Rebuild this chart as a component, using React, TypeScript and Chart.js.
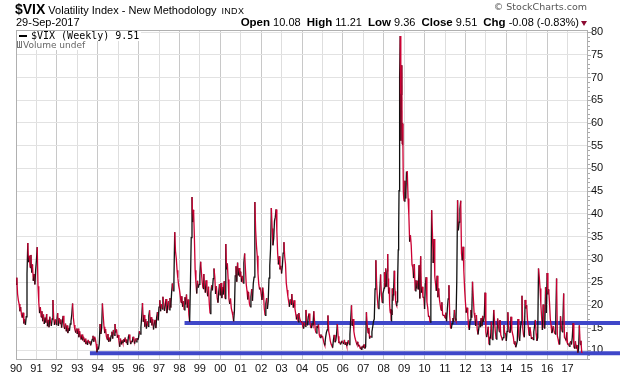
import React, { useEffect, useRef } from "react";
import { Chart, registerables } from "chart.js";

Chart.register(...registerables);

// ---- Data: bi-weekly $VIX closes (2008 weekly) ----
const vix1990 = [24.5, 26.0, 22.4, 21.0, 20.2, 18.6, 19.5, 17.8, 17.2, 18.3, 15.9, 16.8, 15.6, 17.4, 26.8, 33.6, 29.4, 30.8, 28.2, 31.0, 27.1, 28.9, 25.3, 26.8, 24.5, 27.6];
const vix1991 = [29.8, 32.7, 24.1, 20.6, 18.2, 19.5, 17.3, 18.6, 16.4, 17.9, 15.8, 17.2, 16.1, 18.0, 15.3, 16.7, 15.1, 17.4, 16.2, 15.4, 16.9, 21.1, 17.0, 15.6, 16.8, 15.7];
const vix1992 = [16.5, 18.2, 15.4, 17.1, 15.9, 16.8, 15.0, 16.3, 17.6, 15.2, 14.7, 15.9, 14.2, 15.5, 13.8, 14.9, 14.3, 15.8, 16.4, 17.9, 20.3, 17.2, 15.6, 14.5, 13.9, 14.8];
const vix1993 = [13.6, 14.8, 12.9, 14.2, 13.1, 12.4, 13.5, 12.2, 13.0, 11.8, 12.6, 11.4, 12.1, 11.2, 12.3, 11.6, 12.0, 11.1, 11.7, 12.4, 13.2, 11.9, 13.0, 12.5, 11.4, 9.6];
const vix1994 = [10.8, 10.2, 11.5, 15.8, 13.6, 14.9, 20.3, 17.6, 15.2, 13.8, 14.7, 13.1, 12.4, 13.6, 11.9, 12.8, 12.0, 13.2, 14.1, 12.6, 14.5, 13.3, 15.8, 13.9, 14.6, 12.8];
const vix1995 = [13.4, 12.1, 10.8, 12.6, 11.3, 12.2, 11.6, 12.5, 11.9, 12.8, 11.7, 12.4, 11.2, 12.9, 13.5, 12.3, 11.4, 12.1, 11.8, 13.0, 12.2, 11.5, 12.6, 11.9, 12.7, 12.3];
const vix1996 = [12.8, 14.2, 13.6, 15.1, 17.4, 20.4, 16.3, 17.8, 15.2, 16.9, 14.8, 16.4, 15.3, 17.6, 18.8, 16.1, 17.3, 15.5, 16.8, 14.6, 15.9, 16.7, 14.9, 17.2, 18.4, 16.6];
const vix1997 = [19.5, 21.0, 18.6, 20.2, 19.1, 21.8, 20.4, 18.7, 19.9, 21.3, 18.2, 19.6, 20.8, 18.9, 21.5, 19.4, 22.6, 24.7, 23.1, 25.4, 36.0, 31.8, 30.2, 27.6, 25.9, 24.3];
const vix1998 = [23.4, 22.1, 20.5, 21.9, 19.6, 20.8, 18.9, 21.7, 20.1, 22.3, 19.4, 21.2, 17.8, 16.3, 24.6, 34.8, 43.7, 38.2, 40.9, 35.1, 27.6, 24.8, 22.5, 25.3, 23.8, 24.5];
const vix1999 = [26.4, 29.5, 27.1, 25.0, 23.6, 26.8, 24.2, 22.7, 25.4, 23.1, 21.9, 24.0, 20.3, 18.1, 22.6, 24.3, 23.2, 25.8, 28.0, 26.2, 22.4, 24.1, 21.6, 20.5, 22.8, 24.6];
const vix2000 = [22.1, 24.8, 21.5, 23.9, 22.3, 25.2, 21.4, 33.4, 27.8, 29.1, 25.6, 21.3, 20.2, 21.4, 19.3, 18.5, 17.6, 16.4, 18.7, 26.4, 28.5, 25.1, 29.3, 26.5, 28.1, 26.2];
const vix2001 = [27.3, 25.1, 26.4, 24.8, 29.2, 31.3, 27.9, 24.6, 23.1, 21.2, 22.8, 20.4, 19.6, 21.8, 23.5, 20.9, 24.7, 26.1, 42.6, 36.4, 33.1, 30.8, 26.9, 24.5, 23.4, 23.8];
const vix2002 = [22.4, 21.1, 23.8, 22.5, 19.2, 17.7, 20.3, 21.5, 19.1, 20.8, 25.9, 28.6, 32.4, 41.3, 36.8, 33.1, 34.6, 38.5, 39.3, 41.0, 36.2, 31.4, 28.9, 30.7, 27.8, 28.6];
const vix2003 = [26.9, 28.5, 31.4, 33.8, 30.6, 29.0, 24.8, 23.3, 21.9, 20.8, 19.6, 21.2, 20.1, 22.4, 20.5, 19.4, 21.0, 19.2, 18.1, 16.8, 17.9, 16.3, 18.2, 17.1, 16.5, 16.2];
const vix2004 = [16.3, 15.2, 14.8, 16.1, 15.3, 18.9, 16.7, 15.5, 17.4, 18.1, 16.2, 15.1, 14.9, 16.0, 15.5, 18.6, 16.3, 14.4, 13.8, 15.4, 14.9, 15.7, 13.4, 12.8, 13.5, 12.9];
const vix2005 = [13.2, 12.4, 11.6, 11.1, 12.8, 13.9, 14.5, 17.7, 14.2, 13.3, 12.1, 11.4, 11.0, 10.6, 12.3, 13.4, 11.8, 12.1, 13.6, 15.8, 13.1, 11.6, 11.9, 11.3, 11.7, 12.1];
const vix2006 = [12.1, 11.4, 12.3, 11.2, 11.8, 11.0, 11.6, 12.2, 11.3, 13.5, 16.8, 19.9, 15.4, 16.9, 14.2, 13.1, 12.4, 11.8, 11.3, 11.9, 10.9, 11.2, 10.4, 10.8, 10.1, 11.0];
const vix2007 = [10.6, 11.3, 10.4, 10.8, 18.4, 15.6, 13.8, 14.9, 12.6, 13.2, 12.9, 14.1, 15.2, 16.4, 16.9, 23.5, 29.8, 24.6, 21.3, 19.2, 20.6, 22.9, 26.7, 22.4, 20.5, 22.5];
const vix2008 = [23.2, 23.7, 27.2, 24.0, 24.0, 28.0, 25.0, 24.1, 26.5, 27.5, 31.2, 25.8, 25.7, 22.5, 23.8, 20.3, 18.8, 18.2, 19.1, 16.5, 18.8, 17.8, 23.6, 20.9, 22.2, 23.4, 24.0, 27.5, 24.0, 23.0, 22.6, 20.7, 20.0, 19.8, 20.7, 23.1, 25.7, 32.1, 35.7, 45.1, 69.9, 70.3, 79.1, 59.9, 56.1, 66.3, 72.7, 55.3, 59.9, 54.3, 44.9, 43.4];
const vix2009 = [42.8, 47.3, 43.4, 49.3, 49.3, 43.4, 39.7, 33.9, 35.3, 33.1, 28.9, 28.2, 25.9, 29.0, 23.1, 25.4, 23.6, 25.3, 23.4, 28.7, 21.4, 30.7, 22.7, 24.0, 21.6, 21.7];
const vix2010 = [19.1, 24.6, 26.1, 20.6, 19.4, 17.4, 17.6, 16.2, 22.0, 40.8, 35.8, 29.2, 34.5, 26.3, 24.6, 23.1, 26.4, 21.7, 23.6, 21.1, 19.9, 18.8, 20.6, 17.9, 17.6, 17.8];
const vix2011 = [17.1, 18.3, 16.4, 19.2, 21.3, 24.3, 17.7, 15.1, 14.8, 15.9, 17.1, 16.3, 18.9, 17.0, 16.5, 25.3, 43.0, 36.4, 38.2, 41.1, 42.9, 31.3, 29.8, 32.8, 27.4, 23.4];
const vix2012 = [20.6, 18.3, 19.4, 17.8, 15.3, 14.5, 16.7, 18.9, 17.2, 25.1, 21.7, 18.3, 17.1, 15.4, 17.8, 14.6, 13.5, 14.8, 16.4, 15.1, 17.1, 15.3, 17.6, 16.3, 17.4, 22.7];
const vix2013 = [14.0, 12.9, 13.8, 15.2, 11.3, 13.0, 12.6, 16.3, 12.4, 13.0, 18.9, 16.7, 14.2, 12.5, 13.5, 17.0, 15.4, 14.1, 16.7, 13.4, 12.9, 12.2, 12.8, 15.6, 13.8, 13.7];
const vix2014 = [12.1, 14.2, 18.4, 15.1, 14.0, 13.9, 17.4, 14.5, 13.7, 12.9, 11.4, 12.0, 10.7, 11.3, 12.1, 16.9, 13.1, 12.1, 14.9, 16.2, 22.0, 14.8, 13.3, 12.9, 21.1, 19.2];
const vix2015 = [19.9, 16.8, 15.2, 13.3, 15.1, 14.0, 12.5, 12.9, 12.4, 14.1, 15.4, 16.7, 13.7, 12.1, 12.8, 28.0, 26.1, 23.6, 20.1, 17.2, 14.5, 20.1, 15.1, 14.8, 23.9, 18.2];
const vix2016 = [27.0, 22.3, 23.4, 20.5, 16.9, 15.5, 13.8, 14.5, 15.3, 14.1, 13.6, 17.2, 25.8, 13.2, 12.4, 11.4, 11.3, 17.5, 15.4, 14.1, 16.1, 22.5, 12.9, 12.6, 12.2, 14.0];
const vix2017 = [11.3, 11.5, 10.9, 11.5, 12.0, 11.3, 12.9, 15.96, 10.8, 10.4, 12.0, 10.4, 11.2, 9.5, 10.3, 15.5, 11.3, 12.1, 9.6, 9.51];

const yearlyCloses: [number, number[]][] = [
  [1990, vix1990], [1991, vix1991], [1992, vix1992], [1993, vix1993], [1994, vix1994],
  [1995, vix1995], [1996, vix1996], [1997, vix1997], [1998, vix1998], [1999, vix1999],
  [2000, vix2000], [2001, vix2001], [2002, vix2002], [2003, vix2003], [2004, vix2004],
  [2005, vix2005], [2006, vix2006], [2007, vix2007], [2008, vix2008], [2009, vix2009],
  [2010, vix2010], [2011, vix2011], [2012, vix2012], [2013, vix2013], [2014, vix2014],
  [2015, vix2015], [2016, vix2016], [2017, vix2017],
];
const LAST_YEAR = 2017;
const LAST_YEAR_SPAN = 0.77; // data ends 29-Sep-2017

const yearTicks = [1990, 1991, 1992, 1993, 1994, 1995, 1996, 1997, 1998, 1999, 2000, 2001, 2002, 2003, 2004, 2005, 2006, 2007, 2008, 2009, 2010, 2011, 2012, 2013, 2014, 2015, 2016, 2017];
const yTicks = [10, 15, 20, 25, 30, 35, 40, 45, 50, 55, 60, 65, 70, 75, 80];

// Trend lines drawn on the chart
const supportLevel = 9.35;
const supportStart = 1993.62;
const resistanceLevel = 16.0;
const resistanceStart = 1998.25;
const trendLineEnd = 2019.7;

const quoteFields: [string, string][] = [
  ["Open", "10.08"], ["High", "11.21"], ["Low", "9.36"], ["Close", "9.51"], ["Chg", "-0.08 (-0.83%)"],
];

const RED = "#cc0033";
const BLUE = "#3f47c9";

const framePlugin = {
  id: "frame",
  beforeDatasetsDraw(chart: any) {
    const { ctx, chartArea: a, scales } = chart;
    ctx.save();
    ctx.strokeStyle = "#b0b0b0";
    ctx.lineWidth = 1;
    ctx.strokeRect(a.left + 0.5, a.top + 0.5, a.right - a.left - 1, a.bottom - a.top - 1);
    // minor ticks on the right axis
    ctx.strokeStyle = "#a8a8a8";
    for (let v = 8; v <= 80; v++) {
      const y = Math.round(scales.y.getPixelForValue(v)) + 0.5;
      ctx.beginPath();
      ctx.moveTo(a.right, y);
      ctx.lineTo(a.right + (v % 5 === 0 ? 3 : 2), y);
      ctx.stroke();
    }
    ctx.restore();
  },
};

export default function App() {
  const ref = useRef<HTMLCanvasElement | null>(null);

  useEffect(() => {
    if (!ref.current) return;
    const points: { x: number; y: number }[] = [];
    yearlyCloses.forEach(([year, vals]) => {
      const span = year === LAST_YEAR ? LAST_YEAR_SPAN : 1;
      vals.forEach((v, i) => points.push({ x: year + (i * span) / vals.length, y: v }));
    });

    const chart = new Chart(ref.current, {
      type: "line",
      data: {
        datasets: [
          {
            data: points,
            borderColor: RED,
            borderWidth: 1.3,
            pointRadius: 0,
            tension: 0,
            segment: {
              borderColor: (c: any) => (c.p1.parsed.y > c.p0.parsed.y ? "#111" : RED),
            },
          },
          {
            data: [{ x: supportStart, y: supportLevel }, { x: trendLineEnd, y: supportLevel }],
            borderColor: BLUE,
            borderWidth: 4,
            pointRadius: 0,
            clip: false as any,
          },
          {
            data: [{ x: resistanceStart, y: resistanceLevel }, { x: trendLineEnd, y: resistanceLevel }],
            borderColor: BLUE,
            borderWidth: 4,
            pointRadius: 0,
            clip: false as any,
          },
        ],
      },
      options: {
        responsive: false,
        animation: false,
        layout: { padding: { left: 16, top: 30, right: 0, bottom: 0 } },
        plugins: { legend: { display: false }, tooltip: { enabled: false } },
        scales: {
          x: {
            type: "linear",
            min: 1990,
            max: 2018,
            afterBuildTicks: (s: any) => {
              s.ticks = yearTicks.map((v) => ({ value: v }));
            },
            afterFit: (s: any) => {
              s.height = 16;
            },
            ticks: {
              autoSkip: false,
              maxRotation: 0,
              minRotation: 0,
              padding: 2,
              color: "#111",
              font: { family: "'Liberation Sans', Arial, sans-serif", size: 11 },
              callback: (v: any) => String(Number(v) % 100).padStart(2, "0"),
            },
            grid: {
              drawTicks: false,
              color: (c: any) => (c.tick && c.tick.value % 2 === 0 ? "#c8c8c8" : "#dedede"),
            },
            border: { display: false },
          },
          y: {
            type: "linear",
            position: "right",
            min: 7.89,
            max: 80.44,
            afterBuildTicks: (s: any) => {
              s.ticks = yTicks.map((v) => ({ value: v }));
            },
            afterFit: (s: any) => {
              s.width = 32;
            },
            ticks: {
              padding: 3,
              color: "#111",
              font: { family: "'Liberation Sans', Arial, sans-serif", size: 11 },
            },
            grid: { drawTicks: false, color: "#e2e2e2" },
            border: { display: false },
          },
        },
      },
      plugins: [framePlugin],
    });
    return () => chart.destroy();
  }, []);

  const sans = "'Liberation Sans', Arial, sans-serif";
  return (
    <div style={{ position: "absolute", left: 0, top: 0, width: 620, height: 376, background: "#fff", fontFamily: sans, color: "#000" }}>
      <canvas ref={ref} width={620} height={376} style={{ position: "absolute", left: 0, top: 0 }} />
      <div style={{ position: "absolute", left: 15, top: 1, whiteSpace: "nowrap", lineHeight: "16px" }}>
        <span style={{ fontWeight: "bold", fontSize: 14 }}>$VIX</span>
        <span style={{ fontSize: 11, marginLeft: 3 }}>Volatility Index - New Methodology</span>
        <span style={{ fontSize: 9, marginLeft: 5, letterSpacing: 0.3 }}>INDX</span>
      </div>
      <div style={{ position: "absolute", left: 16, top: 16, fontSize: 11, lineHeight: "13px", whiteSpace: "nowrap" }}>29-Sep-2017</div>
      <div style={{ position: "absolute", right: 41, top: 16, fontSize: 11, lineHeight: "13px", whiteSpace: "nowrap" }}>
        {quoteFields.map(([k, v], i) => (
          <span key={k} style={{ marginLeft: i === 0 ? 0 : 6 }}>
            <b style={{ fontSize: 11.5 }}>{k}</b> {v}
          </span>
        ))}
      </div>
      <div style={{ position: "absolute", left: 581, top: 21, width: 0, height: 0, borderLeft: "3.5px solid transparent", borderRight: "3.5px solid transparent", borderTop: "5px solid #8c0a32" }} />
      <div style={{ position: "absolute", right: 33, top: 1, fontSize: 9.5, color: "#555", whiteSpace: "nowrap", fontFamily: "'DejaVu Sans', sans-serif" }}>© StockCharts.com</div>
      <div style={{ position: "absolute", left: 17, top: 31, background: "#fff", whiteSpace: "nowrap", fontFamily: "'DejaVu Sans Mono', monospace", fontSize: 10, lineHeight: "10px", paddingRight: 2 }}>
        <span style={{ display: "inline-block", width: 8, height: 2, background: "#000", verticalAlign: "middle", margin: "0 4px 0 2px" }} />
        $VIX (Weekly) 9.51
      </div>
      <div style={{ position: "absolute", left: 17, top: 41, background: "#fff", whiteSpace: "nowrap", fontFamily: "'DejaVu Sans', sans-serif", fontSize: 9, lineHeight: "9px", color: "#666", paddingRight: 2 }}>
        <span style={{ display: "inline-block", width: 5, height: 6, borderBottom: "1px solid #777", background: "linear-gradient(90deg,#777 0 1px,transparent 1px 2px,#777 2px 3px,transparent 3px 4px,#777 4px 5px)", marginRight: 1 }} />
        Volume undef
      </div>
    </div>
  );
}
